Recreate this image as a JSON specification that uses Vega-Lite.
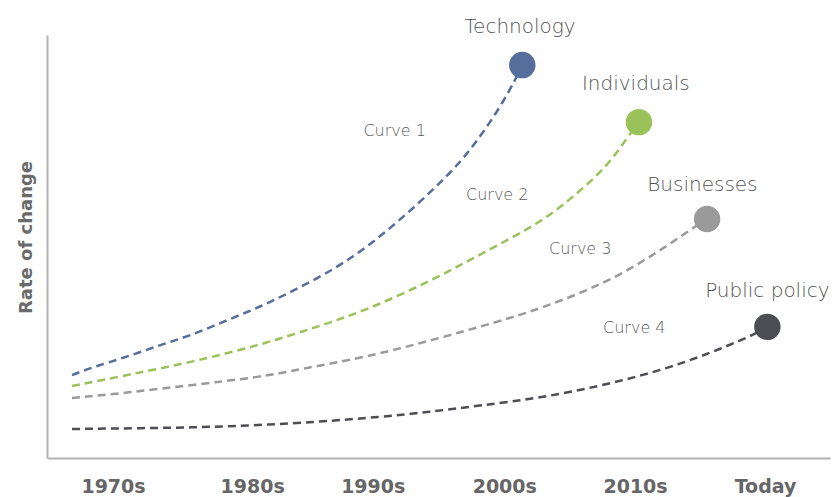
{
  "$schema": "https://vega.github.io/schema/vega-lite/v6.json",
  "width": 783,
  "height": 423,
  "autosize": {"type": "none"},
  "padding": {"left": 47, "top": 35, "right": 10, "bottom": 39},
  "background": "white",
  "config": {"view": {"stroke": null}, "font": "DejaVu Sans"},
  "datasets": {
    "curves": [
      {"s": "Technology", "x": 3.19, "y": 19.6},
      {"s": "Technology", "x": 5.87, "y": 21.5},
      {"s": "Technology", "x": 10.2, "y": 23.9},
      {"s": "Technology", "x": 14.4, "y": 26.7},
      {"s": "Technology", "x": 18.6, "y": 29.1},
      {"s": "Technology", "x": 23.0, "y": 32.6},
      {"s": "Technology", "x": 27.2, "y": 35.7},
      {"s": "Technology", "x": 31.4, "y": 39.5},
      {"s": "Technology", "x": 36.5, "y": 44.4},
      {"s": "Technology", "x": 40.9, "y": 49.9},
      {"s": "Technology", "x": 45.1, "y": 56.3},
      {"s": "Technology", "x": 49.3, "y": 63.4},
      {"s": "Technology", "x": 52.7, "y": 69.7},
      {"s": "Technology", "x": 55.3, "y": 75.9},
      {"s": "Technology", "x": 57.9, "y": 83.0},
      {"s": "Technology", "x": 59.8, "y": 89.4},
      {"s": "Technology", "x": 60.7, "y": 92.9},
      {"s": "Individuals", "x": 3.19, "y": 17.0},
      {"s": "Individuals", "x": 10.2, "y": 19.6},
      {"s": "Individuals", "x": 18.6, "y": 22.7},
      {"s": "Individuals", "x": 27.2, "y": 26.7},
      {"s": "Individuals", "x": 34.5, "y": 31.0},
      {"s": "Individuals", "x": 40.9, "y": 35.0},
      {"s": "Individuals", "x": 49.3, "y": 42.1},
      {"s": "Individuals", "x": 55.7, "y": 48.5},
      {"s": "Individuals", "x": 63.0, "y": 55.6},
      {"s": "Individuals", "x": 67.2, "y": 61.7},
      {"s": "Individuals", "x": 71.5, "y": 68.8},
      {"s": "Individuals", "x": 74.2, "y": 76.0},
      {"s": "Individuals", "x": 75.6, "y": 79.4},
      {"s": "Businesses", "x": 3.19, "y": 14.2},
      {"s": "Businesses", "x": 10.2, "y": 15.4},
      {"s": "Businesses", "x": 18.6, "y": 17.3},
      {"s": "Businesses", "x": 27.2, "y": 19.1},
      {"s": "Businesses", "x": 32.3, "y": 21.0},
      {"s": "Businesses", "x": 40.9, "y": 23.9},
      {"s": "Businesses", "x": 49.3, "y": 27.9},
      {"s": "Businesses", "x": 57.9, "y": 32.4},
      {"s": "Businesses", "x": 63.0, "y": 35.3},
      {"s": "Businesses", "x": 71.5, "y": 41.4},
      {"s": "Businesses", "x": 77.9, "y": 48.5},
      {"s": "Businesses", "x": 82.5, "y": 54.4},
      {"s": "Businesses", "x": 84.3, "y": 56.5},
      {"s": "Public policy", "x": 3.19, "y": 6.86},
      {"s": "Public policy", "x": 14.4, "y": 7.09},
      {"s": "Public policy", "x": 23.0, "y": 7.4},
      {"s": "Public policy", "x": 34.5, "y": 8.5},
      {"s": "Public policy", "x": 42.5, "y": 9.7},
      {"s": "Public policy", "x": 48.9, "y": 10.9},
      {"s": "Public policy", "x": 55.3, "y": 12.4},
      {"s": "Public policy", "x": 63.0, "y": 14.2},
      {"s": "Public policy", "x": 71.5, "y": 17.3},
      {"s": "Public policy", "x": 79.9, "y": 21.5},
      {"s": "Public policy", "x": 86.3, "y": 26.0},
      {"s": "Public policy", "x": 90.2, "y": 29.1},
      {"s": "Public policy", "x": 92.0, "y": 31.0}
    ],
    "ends": [
      {"s": "Technology", "x": 60.7, "y": 92.9, "lx": 60.4, "ly": 101.9},
      {"s": "Individuals", "x": 75.6, "y": 79.4, "lx": 75.2, "ly": 88.4},
      {"s": "Businesses", "x": 84.3, "y": 56.5, "lx": 83.7, "ly": 64.5},
      {"s": "Public policy", "x": 92.0, "y": 31.0, "lx": 92.0, "ly": 39.5}
    ],
    "curveLabels": [
      {"t": "Curve 1", "x": 44.4, "y": 77.3},
      {"t": "Curve 2", "x": 57.5, "y": 62.2},
      {"t": "Curve 3", "x": 68.1, "y": 49.4},
      {"t": "Curve 4", "x": 75.0, "y": 30.7}
    ]
  },
  "layer": [
    {
      "data": {"name": "curves"},
      "mark": {"type": "line", "strokeDash": [8, 5], "strokeWidth": 2.5, "interpolate": "basis"},
      "encoding": {
        "x": {
          "field": "x", "type": "quantitative",
          "scale": {"domain": [0, 100], "nice": false, "zero": false},
          "axis": {
            "title": null, "grid": false, "ticks": false,
            "values": [8.43, 26.2, 41.6, 58.4, 75.1, 91.7],
            "labelExpr": "datum.value < 15 ? '1970s' : datum.value < 30 ? '1980s' : datum.value < 50 ? '1990s' : datum.value < 65 ? '2000s' : datum.value < 85 ? '2010s' : 'Today'",
            "labelFontSize": 19, "labelFontWeight": "bold", "labelColor": "#666666",
            "labelPadding": 19, "labelBaseline": "top",
            "domainColor": "#b3b3b3", "domainWidth": 2
          }
        },
        "y": {
          "field": "y", "type": "quantitative",
          "scale": {"domain": [0, 100], "nice": false, "zero": false},
          "axis": {
            "title": "Rate of change", "grid": false, "ticks": false, "labels": false,
            "titleFontSize": 18, "titleFontWeight": "bold", "titleColor": "#6a6a6a",
            "titlePadding": 12, "titleY": 202,
            "domainColor": "#b3b3b3", "domainWidth": 2
          }
        },
        "color": {
          "field": "s", "type": "nominal", "legend": null,
          "scale": {
            "domain": ["Technology", "Individuals", "Businesses", "Public policy"],
            "range": ["#566e9b", "#9bc15a", "#9a9a9a", "#4d4e53"]
          }
        },
        "detail": {"field": "s"}
      }
    },
    {
      "data": {"name": "ends"},
      "mark": {"type": "circle", "size": 700, "opacity": 1},
      "encoding": {
        "x": {"field": "x", "type": "quantitative"},
        "y": {"field": "y", "type": "quantitative"},
        "color": {"field": "s", "type": "nominal", "legend": null}
      }
    },
    {
      "data": {"name": "ends"},
      "mark": {"type": "text", "fontSize": 20, "fontWeight": 300, "color": "#555555", "baseline": "middle", "align": "center"},
      "encoding": {
        "x": {"field": "lx", "type": "quantitative"},
        "y": {"field": "ly", "type": "quantitative"},
        "text": {"field": "s"}
      }
    },
    {
      "data": {"name": "curveLabels"},
      "mark": {"type": "text", "fontSize": 16, "fontWeight": 300, "color": "#5a5a5a", "baseline": "middle", "align": "center"},
      "encoding": {
        "x": {"field": "x", "type": "quantitative"},
        "y": {"field": "y", "type": "quantitative"},
        "text": {"field": "t"}
      }
    }
  ]
}
